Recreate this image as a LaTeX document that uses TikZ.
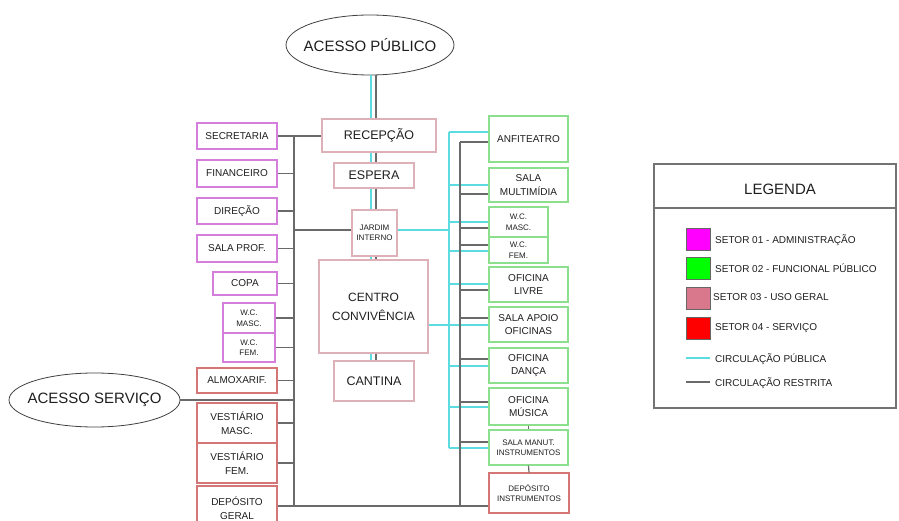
\documentclass[tikz,border=0pt]{standalone}
\usepackage{fontspec}
\setmainfont{Liberation Sans}
\usetikzlibrary{shapes.geometric}
\definecolor{admC}{HTML}{D57EDC}
\definecolor{pubC}{HTML}{8CDF8C}
\definecolor{geralC}{HTML}{DEB0B7}
\definecolor{servC}{HTML}{D47676}
\definecolor{cyanL}{HTML}{5CDCE0}
\definecolor{grayL}{HTML}{6A6A6A}
\definecolor{txt}{HTML}{1E1E1E}
\definecolor{sw1}{HTML}{FF00FF}
\definecolor{sw2}{HTML}{00FF00}
\definecolor{sw3}{HTML}{D9788C}
\definecolor{sw4}{HTML}{FF0000}
\tikzset{
 room/.style={draw, line width=1.15pt, inner sep=0pt, align=center, text=txt, font=\fontsize{10}{13.5}\selectfont},
 adm/.style={room, draw=admC},
 pub/.style={room, draw=pubC},
 ger/.style={room, draw=geralC},
 srv/.style={room, draw=servC},
 small/.style={font=\fontsize{8}{10.5}\selectfont},
 big/.style={font=\fontsize{12.5}{19}\selectfont},
 sz/.style 2 args={minimum width=#1, minimum height=#2},
 rline/.style={draw=grayL, line width=1.2pt},
 cline/.style={draw=cyanL, line width=1.1pt},
 acc/.style={ellipse, draw=black!75, line width=0.8pt, inner sep=0pt, inner xsep=-12pt, font=\fontsize{15}{18}\selectfont, text=txt},
 swatch/.style={draw=black!60, line width=0.6pt, minimum width=24pt, minimum height=22pt, inner sep=0pt},
 legtext/.style={anchor=west, inner sep=0pt, text=txt, text height=7pt, text depth=0pt, font=\fontsize{10}{12}\selectfont},
}
\begin{document}
\begin{tikzpicture}[x=1pt,y=-1pt]
\useasboundingbox (0,0) rectangle (899,521);
% access ellipses
\node[acc, sz={168pt}{60pt}] (ap) at (370,45) {ACESSO PÚBLICO};
\node[acc, sz={171pt}{54pt}] (as) at (94.5,400) {ACESSO SERVIÇO};
% left column
\node[adm, sz={80pt}{26pt}] (sec) at (237,136) {SECRETARIA};
\node[adm, sz={80pt}{27pt}] (fin) at (237,173.5) {FINANCEIRO};
\node[adm, sz={80pt}{26pt}] (dir) at (237,211) {DIREÇÃO};
\node[adm, sz={80pt}{27pt}] (prof) at (237,248.5) {SALA PROF.};
\node[adm, sz={64pt}{23pt}] (copa) at (245,283.5) {COPA};
\node[adm, small, sz={52pt}{30pt}] (wcm) at (249,318) {W.C.\\MASC.};
\node[adm, small, sz={52pt}{29pt}] (wcf) at (249,347.5) {W.C.\\FEM.};
\node[srv, sz={80pt}{25pt}] (almox) at (237,380.5) {ALMOXARIF.};
\node[srv, sz={80pt}{40pt}] (vestm) at (237,423) {VESTIÁRIO\\MASC.};
\node[srv, sz={80pt}{40pt}] (vestf) at (237,463) {VESTIÁRIO\\FEM.};
\node[srv, sz={80pt}{44pt}] (depg) at (237,508) {DEPÓSITO\\GERAL};
% center column
\node[ger, big, sz={114pt}{33pt}] (rec) at (379,135.5) {RECEPÇÃO};
\node[ger, big, sz={80pt}{25pt}] (esp) at (374,175.5) {ESPERA};
\node[ger, small, sz={45pt}{46pt}] (jard) at (374.5,233) {JARDIM\\INTERNO};
\node[ger, font=\fontsize{12}{19}\selectfont, sz={109pt}{93pt}] (centro) at (373.5,306.5) {CENTRO\\CONVIVÊNCIA};
\node[ger, big, sz={80pt}{40pt}] (cant) at (374,381) {CANTINA};
% right column
\node[pub, sz={79pt}{46pt}] (anf) at (528.5,139) {ANFITEATRO};
\node[pub, sz={79pt}{34pt}] (mult) at (528.5,185) {SALA\\MULTIMÍDIA};
\node[pub, small, sz={59pt}{30pt}] (wcm2) at (518.5,222) {W.C.\\MASC.};
\node[pub, small, sz={59pt}{26pt}] (wcf2) at (518.5,250) {W.C.\\FEM.};
\node[pub, sz={79pt}{35pt}] (ofl) at (528.5,284.5) {OFICINA\\LIVRE};
\node[pub, sz={79pt}{35pt}] (apoio) at (528.5,324.5) {SALA APOIO\\OFICINAS};
\node[pub, sz={79pt}{35pt}] (danca) at (528.5,365.5) {OFICINA\\DANÇA};
\node[pub, sz={79pt}{37pt}] (musica) at (528.5,406.5) {OFICINA\\MÚSICA};
\node[pub, small, sz={79pt}{35pt}] (manut) at (528.5,447.5) {SALA MANUT.\\INSTRUMENTOS};
\node[srv, small, sz={80pt}{40pt}] (depi) at (529,493) {DEPÓSITO\\INSTRUMENTOS};
% bus coordinates
\coordinate (cx) at (371,0);
\coordinate (gx) at (376,0);
\coordinate (lb) at (294,0);
\coordinate (rb) at (460,0);
\coordinate (cb) at (449,0);
\coordinate (dgl) at ([yshift=2pt]depg.east);
\coordinate (jl) at ([yshift=3pt]jard.west);
\coordinate (jr) at ([yshift=3pt]jard.east);
\coordinate (cc) at ([yshift=-18.5pt]centro.east);
% central spine
\foreach \a/\b in {ap/rec, rec/esp, esp/jard, jard/centro, centro/cant} {
  \draw[cline] (cx |- \a.south) -- (cx |- \b.north);
  \draw[rline] (gx |- \a.south) -- (gx |- \b.north);
}
% right: public circulation
\foreach \n/\c in {anf/7, mult/0, wcm2/0, wcf2/-1, ofl/0.5, danca/-0.5, musica/-0.5, manut/-0.5} {
  \path ([yshift=\c pt]\n.west) coordinate (\n-c);
  \draw[cline] (\n-c) -- (cb |- \n-c);
}
\draw[cline] (cb |- anf-c) -- (cb |- manut-c);
\draw[cline] (jr) -- (cb |- jr);
\draw[cline] (cc) -- (cc -| apoio.west);
% right: restricted circulation
\foreach \n/\g in {anf/-3, mult/-9, wcm2/-6, wcf2/5, ofl/-5.5, apoio/6.5, danca/6.5, musica/4.5, manut/5.5} {
  \path ([yshift=\g pt]\n.west) coordinate (\n-g);
  \draw[rline] (\n-g) -- (rb |- \n-g);
}
\draw[rline] (rb |- anf-g) -- (rb |- dgl);
\draw[rline] (musica.south) -- (manut.north);
\draw[rline] (manut.south) -- (depi.north);
% left: restricted circulation
\draw[rline] (sec.east) -- (sec.east -| rec.west);
\draw[rline] (lb |- sec.east) -- (lb |- dgl);
\foreach \n in {fin,dir,prof,copa,wcm,wcf,almox,vestm,vestf}
  \draw[rline] (\n.east) -- (lb |- \n.east);
\draw[rline] (as.east) -- (lb |- as.east);
\draw[rline] (lb |- jl) -- (jl);
\draw[rline] (dgl) -- (dgl -| depi.west);
% legend
\node[draw=black!55, line width=1.2pt, minimum width=242pt, minimum height=244pt, inner sep=0pt] (leg) at (775,286) {};
\coordinate (lh) at (654,208);
\draw[black!55, line width=1.2pt] (lh) -- (lh -| leg.east);
\node[text=txt, font=\fontsize{15}{18}\selectfont] (legt) at (780,189) {LEGENDA};
\node[swatch, fill=sw1] (s1) at (698,239) {};
\node[swatch, fill=sw2] (s2) at (698,268.5) {};
\node[swatch, fill=sw3] (s3) at (698,298.5) {};
\node[swatch, fill=sw4] (s4) at (698,328) {};
\node[legtext] (t1) at (715,240) {SETOR 01 - ADMINISTRAÇÃO};
\node[legtext] (t2) at (715,269) {SETOR 02 - FUNCIONAL PÚBLICO};
\node[legtext] (t3) at (713,297.5) {SETOR 03 - USO GERAL};
\node[legtext] (t4) at (715,327) {SETOR 04 - SERVIÇO};
\node[legtext] (t5) at (715,359) {CIRCULAÇÃO PÚBLICA};
\node[legtext] (t6) at (715,383) {CIRCULAÇÃO RESTRITA};
\coordinate (l5) at (686,358);
\coordinate (l6) at (686,382);
\draw[cline] (l5) -- (l5 -| s1.east);
\draw[rline] (l6) -- (l6 -| s1.east);
\end{tikzpicture}
\end{document}
